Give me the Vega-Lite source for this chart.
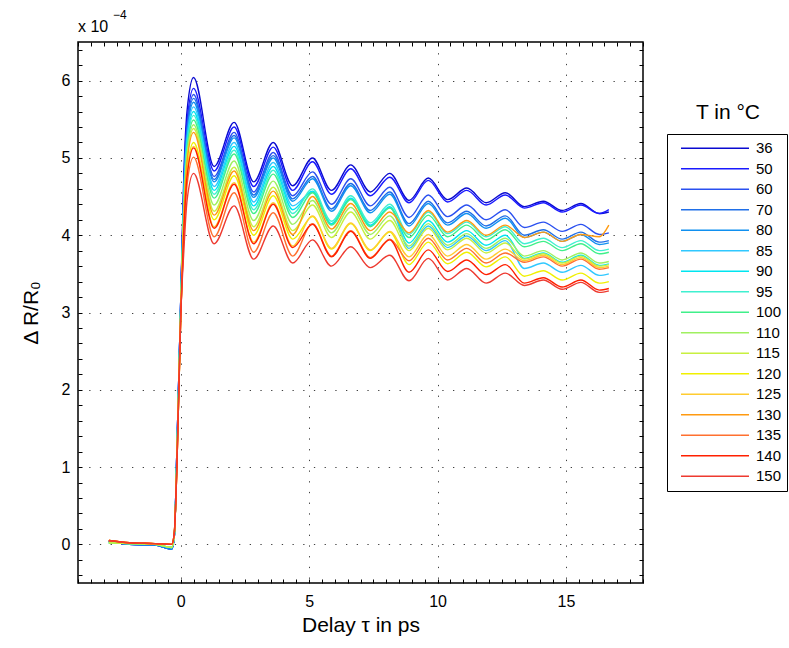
{
"$schema": "https://vega.github.io/schema/vega-lite/v6.json",
"width": 565, "height": 541,
"autosize": {"type": "none"},
"padding": {"left": 78, "top": 42, "right": 146, "bottom": 65},
"background": "white",
"config": {"view": {"stroke": "#000", "strokeWidth": 1.5}, "font": "Liberation Sans"},
"data": {"values": [
{"T":36,"x":-2.8,"y":0.04},{"T":36,"x":-2,"y":0},{"T":36,"x":-1,"y":-0.01},{"T":36,"x":-0.35,"y":-0.06},{"T":36,"x":-0.25,"y":0.1},{"T":36,"x":-0.15,"y":1.2},{"T":36,"x":0,"y":3.15},{"T":36,"x":0.12,"y":4.77},{"T":36,"x":0.25,"y":5.62},{"T":36,"x":0.5,"y":6.04},{"T":36,"x":1.3,"y":4.89},{"T":36,"x":2.08,"y":5.46},{"T":36,"x":2.84,"y":4.69},{"T":36,"x":3.6,"y":5.2},{"T":36,"x":4.36,"y":4.64},{"T":36,"x":5.13,"y":5.0},{"T":36,"x":5.87,"y":4.58},{"T":36,"x":6.62,"y":4.91},{"T":36,"x":7.38,"y":4.56},{"T":36,"x":8.14,"y":4.8},{"T":36,"x":8.89,"y":4.45},{"T":36,"x":9.64,"y":4.74},{"T":36,"x":10.39,"y":4.46},{"T":36,"x":11.14,"y":4.61},{"T":36,"x":11.89,"y":4.42},{"T":36,"x":12.64,"y":4.55},{"T":36,"x":13.38,"y":4.37},{"T":36,"x":14.12,"y":4.44},{"T":36,"x":14.85,"y":4.32},{"T":36,"x":15.58,"y":4.41},{"T":36,"x":16.3,"y":4.28},{"T":36,"x":16.67,"y":4.3},
{"T":50,"x":-2.8,"y":0.04},{"T":50,"x":-2,"y":0},{"T":50,"x":-1,"y":-0.01},{"T":50,"x":-0.35,"y":-0.06},{"T":50,"x":-0.25,"y":0.1},{"T":50,"x":-0.15,"y":1.2},{"T":50,"x":0,"y":3.15},{"T":50,"x":0.12,"y":4.66},{"T":50,"x":0.25,"y":5.49},{"T":50,"x":0.5,"y":5.9},{"T":50,"x":1.3,"y":4.83},{"T":50,"x":2.08,"y":5.4},{"T":50,"x":2.84,"y":4.63},{"T":50,"x":3.6,"y":5.14},{"T":50,"x":4.36,"y":4.58},{"T":50,"x":5.13,"y":4.95},{"T":50,"x":5.87,"y":4.53},{"T":50,"x":6.62,"y":4.86},{"T":50,"x":7.38,"y":4.51},{"T":50,"x":8.14,"y":4.75},{"T":50,"x":8.89,"y":4.42},{"T":50,"x":9.64,"y":4.71},{"T":50,"x":10.39,"y":4.43},{"T":50,"x":11.14,"y":4.58},{"T":50,"x":11.89,"y":4.39},{"T":50,"x":12.64,"y":4.52},{"T":50,"x":13.38,"y":4.35},{"T":50,"x":14.12,"y":4.42},{"T":50,"x":14.85,"y":4.3},{"T":50,"x":15.58,"y":4.39},{"T":50,"x":16.3,"y":4.28},{"T":50,"x":16.67,"y":4.33},
{"T":60,"x":-2.8,"y":0.04},{"T":60,"x":-2,"y":0},{"T":60,"x":-1,"y":-0.01},{"T":60,"x":-0.35,"y":-0.06},{"T":60,"x":-0.25,"y":0.1},{"T":60,"x":-0.15,"y":1.2},{"T":60,"x":0,"y":3.15},{"T":60,"x":0.12,"y":4.6},{"T":60,"x":0.25,"y":5.41},{"T":60,"x":0.5,"y":5.82},{"T":60,"x":1.3,"y":4.76},{"T":60,"x":2.08,"y":5.33},{"T":60,"x":2.84,"y":4.56},{"T":60,"x":3.6,"y":5.07},{"T":60,"x":4.36,"y":4.51},{"T":60,"x":5.13,"y":4.82},{"T":60,"x":5.87,"y":4.4},{"T":60,"x":6.62,"y":4.73},{"T":60,"x":7.38,"y":4.38},{"T":60,"x":8.14,"y":4.62},{"T":60,"x":8.89,"y":4.23},{"T":60,"x":9.64,"y":4.52},{"T":60,"x":10.39,"y":4.24},{"T":60,"x":11.14,"y":4.39},{"T":60,"x":11.89,"y":4.2},{"T":60,"x":12.64,"y":4.33},{"T":60,"x":13.38,"y":4.1},{"T":60,"x":14.12,"y":4.17},{"T":60,"x":14.85,"y":4.05},{"T":60,"x":15.58,"y":4.14},{"T":60,"x":16.3,"y":4.01},{"T":60,"x":16.67,"y":4.03},
{"T":70,"x":-2.8,"y":0.04},{"T":70,"x":-2,"y":0},{"T":70,"x":-1,"y":-0.01},{"T":70,"x":-0.35,"y":-0.06},{"T":70,"x":-0.25,"y":0.1},{"T":70,"x":-0.15,"y":1.2},{"T":70,"x":0,"y":3.15},{"T":70,"x":0.12,"y":4.56},{"T":70,"x":0.25,"y":5.37},{"T":70,"x":0.5,"y":5.77},{"T":70,"x":1.3,"y":4.72},{"T":70,"x":2.08,"y":5.29},{"T":70,"x":2.84,"y":4.52},{"T":70,"x":3.6,"y":5.03},{"T":70,"x":4.36,"y":4.47},{"T":70,"x":5.13,"y":4.76},{"T":70,"x":5.87,"y":4.34},{"T":70,"x":6.62,"y":4.67},{"T":70,"x":7.38,"y":4.32},{"T":70,"x":8.14,"y":4.56},{"T":70,"x":8.89,"y":4.15},{"T":70,"x":9.64,"y":4.44},{"T":70,"x":10.39,"y":4.16},{"T":70,"x":11.14,"y":4.31},{"T":70,"x":11.89,"y":4.12},{"T":70,"x":12.64,"y":4.25},{"T":70,"x":13.38,"y":4.0},{"T":70,"x":14.12,"y":4.07},{"T":70,"x":14.85,"y":3.95},{"T":70,"x":15.58,"y":4.04},{"T":70,"x":16.3,"y":3.91},{"T":70,"x":16.67,"y":3.93},
{"T":80,"x":-2.8,"y":0.04},{"T":80,"x":-2,"y":0},{"T":80,"x":-1,"y":-0.01},{"T":80,"x":-0.35,"y":-0.06},{"T":80,"x":-0.25,"y":0.1},{"T":80,"x":-0.15,"y":1.2},{"T":80,"x":0,"y":3.15},{"T":80,"x":0.12,"y":4.52},{"T":80,"x":0.25,"y":5.32},{"T":80,"x":0.5,"y":5.72},{"T":80,"x":1.3,"y":4.69},{"T":80,"x":2.08,"y":5.26},{"T":80,"x":2.84,"y":4.49},{"T":80,"x":3.6,"y":5.0},{"T":80,"x":4.36,"y":4.44},{"T":80,"x":5.13,"y":4.73},{"T":80,"x":5.87,"y":4.31},{"T":80,"x":6.62,"y":4.64},{"T":80,"x":7.38,"y":4.29},{"T":80,"x":8.14,"y":4.53},{"T":80,"x":8.89,"y":4.12},{"T":80,"x":9.64,"y":4.41},{"T":80,"x":10.39,"y":4.13},{"T":80,"x":11.14,"y":4.28},{"T":80,"x":11.89,"y":4.09},{"T":80,"x":12.64,"y":4.22},{"T":80,"x":13.38,"y":3.97},{"T":80,"x":14.12,"y":4.04},{"T":80,"x":14.85,"y":3.92},{"T":80,"x":15.58,"y":4.01},{"T":80,"x":16.3,"y":3.88},{"T":80,"x":16.67,"y":3.9},
{"T":85,"x":-2.8,"y":0.02},{"T":85,"x":-2,"y":0.01},{"T":85,"x":-1,"y":0},{"T":85,"x":-0.35,"y":-0.04},{"T":85,"x":-0.25,"y":0.12},{"T":85,"x":-0.15,"y":1.1},{"T":85,"x":0,"y":3.05},{"T":85,"x":0.12,"y":4.47},{"T":85,"x":0.25,"y":5.26},{"T":85,"x":0.5,"y":5.66},{"T":85,"x":1.3,"y":4.63},{"T":85,"x":2.08,"y":5.2},{"T":85,"x":2.84,"y":4.43},{"T":85,"x":3.6,"y":4.94},{"T":85,"x":4.36,"y":4.38},{"T":85,"x":5.13,"y":4.56},{"T":85,"x":5.87,"y":4.14},{"T":85,"x":6.62,"y":4.47},{"T":85,"x":7.38,"y":4.12},{"T":85,"x":8.14,"y":4.36},{"T":85,"x":8.89,"y":3.83},{"T":85,"x":9.64,"y":4.12},{"T":85,"x":10.39,"y":3.84},{"T":85,"x":11.14,"y":3.99},{"T":85,"x":11.89,"y":3.8},{"T":85,"x":12.64,"y":3.93},{"T":85,"x":13.38,"y":3.57},{"T":85,"x":14.12,"y":3.64},{"T":85,"x":14.85,"y":3.52},{"T":85,"x":15.58,"y":3.61},{"T":85,"x":16.3,"y":3.48},{"T":85,"x":16.67,"y":3.5},
{"T":90,"x":-2.8,"y":0.02},{"T":90,"x":-2,"y":0.01},{"T":90,"x":-1,"y":0},{"T":90,"x":-0.35,"y":-0.04},{"T":90,"x":-0.25,"y":0.12},{"T":90,"x":-0.15,"y":1.1},{"T":90,"x":0,"y":3.05},{"T":90,"x":0.12,"y":4.42},{"T":90,"x":0.25,"y":5.21},{"T":90,"x":0.5,"y":5.6},{"T":90,"x":1.3,"y":4.58},{"T":90,"x":2.08,"y":5.15},{"T":90,"x":2.84,"y":4.38},{"T":90,"x":3.6,"y":4.89},{"T":90,"x":4.36,"y":4.33},{"T":90,"x":5.13,"y":4.57},{"T":90,"x":5.87,"y":4.15},{"T":90,"x":6.62,"y":4.48},{"T":90,"x":7.38,"y":4.13},{"T":90,"x":8.14,"y":4.37},{"T":90,"x":8.89,"y":3.9},{"T":90,"x":9.64,"y":4.19},{"T":90,"x":10.39,"y":3.91},{"T":90,"x":11.14,"y":4.06},{"T":90,"x":11.89,"y":3.87},{"T":90,"x":12.64,"y":4.0},{"T":90,"x":13.38,"y":3.7},{"T":90,"x":14.12,"y":3.77},{"T":90,"x":14.85,"y":3.65},{"T":90,"x":15.58,"y":3.74},{"T":90,"x":16.3,"y":3.61},{"T":90,"x":16.67,"y":3.63},
{"T":95,"x":-2.8,"y":0.02},{"T":95,"x":-2,"y":0.01},{"T":95,"x":-1,"y":0},{"T":95,"x":-0.35,"y":-0.04},{"T":95,"x":-0.25,"y":0.12},{"T":95,"x":-0.15,"y":1.1},{"T":95,"x":0,"y":3.05},{"T":95,"x":0.12,"y":4.38},{"T":95,"x":0.25,"y":5.16},{"T":95,"x":0.5,"y":5.55},{"T":95,"x":1.3,"y":4.53},{"T":95,"x":2.08,"y":5.1},{"T":95,"x":2.84,"y":4.33},{"T":95,"x":3.6,"y":4.84},{"T":95,"x":4.36,"y":4.28},{"T":95,"x":5.13,"y":4.6},{"T":95,"x":5.87,"y":4.18},{"T":95,"x":6.62,"y":4.51},{"T":95,"x":7.38,"y":4.16},{"T":95,"x":8.14,"y":4.4},{"T":95,"x":8.89,"y":4.01},{"T":95,"x":9.64,"y":4.3},{"T":95,"x":10.39,"y":4.02},{"T":95,"x":11.14,"y":4.17},{"T":95,"x":11.89,"y":3.98},{"T":95,"x":12.64,"y":4.11},{"T":95,"x":13.38,"y":3.89},{"T":95,"x":14.12,"y":3.96},{"T":95,"x":14.85,"y":3.84},{"T":95,"x":15.58,"y":3.93},{"T":95,"x":16.3,"y":3.8},{"T":95,"x":16.67,"y":3.82},
{"T":100,"x":-2.8,"y":0.02},{"T":100,"x":-2,"y":0.01},{"T":100,"x":-1,"y":0},{"T":100,"x":-0.35,"y":-0.04},{"T":100,"x":-0.25,"y":0.12},{"T":100,"x":-0.15,"y":1.1},{"T":100,"x":0,"y":3.05},{"T":100,"x":0.12,"y":4.34},{"T":100,"x":0.25,"y":5.11},{"T":100,"x":0.5,"y":5.49},{"T":100,"x":1.3,"y":4.48},{"T":100,"x":2.08,"y":5.05},{"T":100,"x":2.84,"y":4.28},{"T":100,"x":3.6,"y":4.79},{"T":100,"x":4.36,"y":4.23},{"T":100,"x":5.13,"y":4.55},{"T":100,"x":5.87,"y":4.13},{"T":100,"x":6.62,"y":4.46},{"T":100,"x":7.38,"y":4.11},{"T":100,"x":8.14,"y":4.35},{"T":100,"x":8.89,"y":3.97},{"T":100,"x":9.64,"y":4.26},{"T":100,"x":10.39,"y":3.98},{"T":100,"x":11.14,"y":4.13},{"T":100,"x":11.89,"y":3.94},{"T":100,"x":12.64,"y":4.07},{"T":100,"x":13.38,"y":3.85},{"T":100,"x":14.12,"y":3.92},{"T":100,"x":14.85,"y":3.8},{"T":100,"x":15.58,"y":3.89},{"T":100,"x":16.3,"y":3.76},{"T":100,"x":16.67,"y":3.78},
{"T":110,"x":-2.8,"y":0.02},{"T":110,"x":-2,"y":0.01},{"T":110,"x":-1,"y":0},{"T":110,"x":-0.35,"y":-0.04},{"T":110,"x":-0.25,"y":0.12},{"T":110,"x":-0.15,"y":1.1},{"T":110,"x":0,"y":3.05},{"T":110,"x":0.12,"y":4.29},{"T":110,"x":0.25,"y":5.05},{"T":110,"x":0.5,"y":5.43},{"T":110,"x":1.3,"y":4.39},{"T":110,"x":2.08,"y":4.96},{"T":110,"x":2.84,"y":4.19},{"T":110,"x":3.6,"y":4.7},{"T":110,"x":4.36,"y":4.14},{"T":110,"x":5.13,"y":4.45},{"T":110,"x":5.87,"y":4.03},{"T":110,"x":6.62,"y":4.36},{"T":110,"x":7.38,"y":4.01},{"T":110,"x":8.14,"y":4.25},{"T":110,"x":8.89,"y":3.86},{"T":110,"x":9.64,"y":4.15},{"T":110,"x":10.39,"y":3.87},{"T":110,"x":11.14,"y":4.02},{"T":110,"x":11.89,"y":3.83},{"T":110,"x":12.64,"y":3.96},{"T":110,"x":13.38,"y":3.73},{"T":110,"x":14.12,"y":3.8},{"T":110,"x":14.85,"y":3.68},{"T":110,"x":15.58,"y":3.77},{"T":110,"x":16.3,"y":3.64},{"T":110,"x":16.67,"y":3.66},
{"T":115,"x":-2.8,"y":0.02},{"T":115,"x":-2,"y":0.01},{"T":115,"x":-1,"y":0},{"T":115,"x":-0.35,"y":-0.04},{"T":115,"x":-0.25,"y":0.12},{"T":115,"x":-0.15,"y":1.1},{"T":115,"x":0,"y":3.05},{"T":115,"x":0.12,"y":4.25},{"T":115,"x":0.25,"y":5.0},{"T":115,"x":0.5,"y":5.38},{"T":115,"x":1.3,"y":4.31},{"T":115,"x":2.08,"y":4.88},{"T":115,"x":2.84,"y":4.11},{"T":115,"x":3.6,"y":4.62},{"T":115,"x":4.36,"y":4.06},{"T":115,"x":5.13,"y":4.39},{"T":115,"x":5.87,"y":3.97},{"T":115,"x":6.62,"y":4.3},{"T":115,"x":7.38,"y":3.95},{"T":115,"x":8.14,"y":4.19},{"T":115,"x":8.89,"y":3.8},{"T":115,"x":9.64,"y":4.09},{"T":115,"x":10.39,"y":3.81},{"T":115,"x":11.14,"y":3.96},{"T":115,"x":11.89,"y":3.77},{"T":115,"x":12.64,"y":3.9},{"T":115,"x":13.38,"y":3.69},{"T":115,"x":14.12,"y":3.76},{"T":115,"x":14.85,"y":3.64},{"T":115,"x":15.58,"y":3.73},{"T":115,"x":16.3,"y":3.6},{"T":115,"x":16.67,"y":3.62},
{"T":120,"x":-2.8,"y":0.05},{"T":120,"x":-2,"y":0.02},{"T":120,"x":-1,"y":0.01},{"T":120,"x":-0.35,"y":0},{"T":120,"x":-0.25,"y":0.15},{"T":120,"x":-0.15,"y":1.0},{"T":120,"x":0,"y":2.95},{"T":120,"x":0.12,"y":4.11},{"T":120,"x":0.25,"y":4.84},{"T":120,"x":0.5,"y":5.2},{"T":120,"x":1.3,"y":4.2},{"T":120,"x":2.08,"y":4.77},{"T":120,"x":2.84,"y":4.0},{"T":120,"x":3.6,"y":4.51},{"T":120,"x":4.36,"y":3.95},{"T":120,"x":5.13,"y":4.24},{"T":120,"x":5.87,"y":3.82},{"T":120,"x":6.62,"y":4.15},{"T":120,"x":7.38,"y":3.8},{"T":120,"x":8.14,"y":4.04},{"T":120,"x":8.89,"y":3.62},{"T":120,"x":9.64,"y":3.91},{"T":120,"x":10.39,"y":3.63},{"T":120,"x":11.14,"y":3.78},{"T":120,"x":11.89,"y":3.59},{"T":120,"x":12.64,"y":3.72},{"T":120,"x":13.38,"y":3.47},{"T":120,"x":14.12,"y":3.54},{"T":120,"x":14.85,"y":3.42},{"T":120,"x":15.58,"y":3.51},{"T":120,"x":16.3,"y":3.38},{"T":120,"x":16.67,"y":3.4},
{"T":125,"x":-2.8,"y":0.05},{"T":125,"x":-2,"y":0.02},{"T":125,"x":-1,"y":0.01},{"T":125,"x":-0.35,"y":0},{"T":125,"x":-0.25,"y":0.15},{"T":125,"x":-0.15,"y":1.0},{"T":125,"x":0,"y":2.95},{"T":125,"x":0.12,"y":4.07},{"T":125,"x":0.25,"y":4.79},{"T":125,"x":0.5,"y":5.15},{"T":125,"x":1.3,"y":4.11},{"T":125,"x":2.08,"y":4.68},{"T":125,"x":2.84,"y":3.91},{"T":125,"x":3.6,"y":4.42},{"T":125,"x":4.36,"y":3.86},{"T":125,"x":5.13,"y":4.25},{"T":125,"x":5.87,"y":3.83},{"T":125,"x":6.62,"y":4.16},{"T":125,"x":7.38,"y":3.81},{"T":125,"x":8.14,"y":4.05},{"T":125,"x":8.89,"y":3.72},{"T":125,"x":9.64,"y":4.01},{"T":125,"x":10.39,"y":3.73},{"T":125,"x":11.14,"y":3.88},{"T":125,"x":11.89,"y":3.69},{"T":125,"x":12.64,"y":3.82},{"T":125,"x":13.38,"y":3.67},{"T":125,"x":14.12,"y":3.74},{"T":125,"x":14.85,"y":3.62},{"T":125,"x":15.58,"y":3.71},{"T":125,"x":16.3,"y":3.58},{"T":125,"x":16.67,"y":3.6},
{"T":130,"x":-2.8,"y":0.05},{"T":130,"x":-2,"y":0.02},{"T":130,"x":-1,"y":0.01},{"T":130,"x":-0.35,"y":0},{"T":130,"x":-0.25,"y":0.15},{"T":130,"x":-0.15,"y":1.0},{"T":130,"x":0,"y":2.95},{"T":130,"x":0.12,"y":4.21},{"T":130,"x":0.25,"y":4.96},{"T":130,"x":0.5,"y":5.33},{"T":130,"x":1.3,"y":4.26},{"T":130,"x":2.08,"y":4.83},{"T":130,"x":2.84,"y":4.06},{"T":130,"x":3.6,"y":4.57},{"T":130,"x":4.36,"y":4.01},{"T":130,"x":5.13,"y":4.5},{"T":130,"x":5.87,"y":4.08},{"T":130,"x":6.62,"y":4.41},{"T":130,"x":7.38,"y":4.06},{"T":130,"x":8.14,"y":4.3},{"T":130,"x":8.89,"y":4.03},{"T":130,"x":9.64,"y":4.32},{"T":130,"x":10.39,"y":4.04},{"T":130,"x":11.14,"y":4.19},{"T":130,"x":11.89,"y":4.0},{"T":130,"x":12.64,"y":4.13},{"T":130,"x":13.38,"y":3.97},{"T":130,"x":14.12,"y":4.04},{"T":130,"x":14.85,"y":3.92},{"T":130,"x":15.58,"y":4.01},{"T":130,"x":16.3,"y":3.98},{"T":130,"x":16.67,"y":4.13},
{"T":135,"x":-2.8,"y":0.05},{"T":135,"x":-2,"y":0.02},{"T":135,"x":-1,"y":0.01},{"T":135,"x":-0.35,"y":0},{"T":135,"x":-0.25,"y":0.15},{"T":135,"x":-0.15,"y":1.0},{"T":135,"x":0,"y":2.95},{"T":135,"x":0.12,"y":3.96},{"T":135,"x":0.25,"y":4.66},{"T":135,"x":0.5,"y":5.01},{"T":135,"x":1.3,"y":3.98},{"T":135,"x":2.08,"y":4.55},{"T":135,"x":2.84,"y":3.78},{"T":135,"x":3.6,"y":4.29},{"T":135,"x":4.36,"y":3.73},{"T":135,"x":5.13,"y":4.15},{"T":135,"x":5.87,"y":3.73},{"T":135,"x":6.62,"y":4.06},{"T":135,"x":7.38,"y":3.71},{"T":135,"x":8.14,"y":3.95},{"T":135,"x":8.89,"y":3.67},{"T":135,"x":9.64,"y":3.96},{"T":135,"x":10.39,"y":3.68},{"T":135,"x":11.14,"y":3.83},{"T":135,"x":11.89,"y":3.64},{"T":135,"x":12.64,"y":3.77},{"T":135,"x":13.38,"y":3.65},{"T":135,"x":14.12,"y":3.72},{"T":135,"x":14.85,"y":3.6},{"T":135,"x":15.58,"y":3.69},{"T":135,"x":16.3,"y":3.56},{"T":135,"x":16.67,"y":3.58},
{"T":140,"x":-2.8,"y":0.05},{"T":140,"x":-2,"y":0.02},{"T":140,"x":-1,"y":0.01},{"T":140,"x":-0.35,"y":0},{"T":140,"x":-0.25,"y":0.15},{"T":140,"x":-0.15,"y":1.0},{"T":140,"x":0,"y":2.95},{"T":140,"x":0.12,"y":4.05},{"T":140,"x":0.25,"y":4.77},{"T":140,"x":0.5,"y":5.13},{"T":140,"x":1.3,"y":4.09},{"T":140,"x":2.08,"y":4.66},{"T":140,"x":2.84,"y":3.89},{"T":140,"x":3.6,"y":4.4},{"T":140,"x":4.36,"y":3.84},{"T":140,"x":5.13,"y":4.14},{"T":140,"x":5.87,"y":3.72},{"T":140,"x":6.62,"y":4.05},{"T":140,"x":7.38,"y":3.7},{"T":140,"x":8.14,"y":3.94},{"T":140,"x":8.89,"y":3.52},{"T":140,"x":9.64,"y":3.81},{"T":140,"x":10.39,"y":3.53},{"T":140,"x":11.14,"y":3.68},{"T":140,"x":11.89,"y":3.49},{"T":140,"x":12.64,"y":3.62},{"T":140,"x":13.38,"y":3.38},{"T":140,"x":14.12,"y":3.45},{"T":140,"x":14.85,"y":3.33},{"T":140,"x":15.58,"y":3.42},{"T":140,"x":16.3,"y":3.29},{"T":140,"x":16.67,"y":3.31},
{"T":150,"x":-2.8,"y":0.05},{"T":150,"x":-2,"y":0.02},{"T":150,"x":-1,"y":0.01},{"T":150,"x":-0.35,"y":0},{"T":150,"x":-0.25,"y":0.15},{"T":150,"x":-0.15,"y":1.0},{"T":150,"x":0,"y":2.95},{"T":150,"x":0.12,"y":3.79},{"T":150,"x":0.25,"y":4.46},{"T":150,"x":0.5,"y":4.8},{"T":150,"x":1.3,"y":3.89},{"T":150,"x":2.08,"y":4.38},{"T":150,"x":2.84,"y":3.69},{"T":150,"x":3.6,"y":4.12},{"T":150,"x":4.36,"y":3.64},{"T":150,"x":5.13,"y":3.94},{"T":150,"x":5.87,"y":3.6},{"T":150,"x":6.62,"y":3.85},{"T":150,"x":7.38,"y":3.58},{"T":150,"x":8.14,"y":3.74},{"T":150,"x":8.89,"y":3.41},{"T":150,"x":9.64,"y":3.7},{"T":150,"x":10.39,"y":3.42},{"T":150,"x":11.14,"y":3.57},{"T":150,"x":11.89,"y":3.38},{"T":150,"x":12.64,"y":3.51},{"T":150,"x":13.38,"y":3.35},{"T":150,"x":14.12,"y":3.42},{"T":150,"x":14.85,"y":3.3},{"T":150,"x":15.58,"y":3.39},{"T":150,"x":16.3,"y":3.26},{"T":150,"x":16.67,"y":3.28}
]},
"resolve": {"axis": {"x": "independent", "y": "independent"}},
"layer": [
{"mark": {"type": "line", "interpolate": "monotone", "strokeWidth": 1.4},
 "encoding": {
  "x": {"field": "x", "type": "quantitative", "scale": {"domain": [-4, 18], "nice": false, "zero": false},
        "axis": {"orient": "bottom", "values": [0, 5, 10, 15], "ticks": false, "domain": false, "grid": true, "gridDash": [1.3, 9.4], "gridColor": "#000", "gridOpacity": 0.75, "gridWidth": 1, "labelFontSize": 16, "labelPadding": 10, "labelColor": "#000", "labelFont": "Liberation Sans", "title": "Delay τ in ps", "titleFontSize": 21, "titleFontWeight": "normal", "titleFont": "Liberation Sans", "titleColor": "#000", "titlePadding": 5}},
  "y": {"field": "y", "type": "quantitative", "scale": {"domain": [-0.5, 6.5], "nice": false, "zero": false},
        "axis": {"orient": "left", "values": [0, 1, 2, 3, 4, 5, 6], "ticks": false, "domain": false, "grid": true, "gridDash": [1.3, 9.4], "gridColor": "#000", "gridOpacity": 0.75, "gridWidth": 1, "labelFontSize": 16, "labelPadding": 8, "labelColor": "#000", "labelFont": "Liberation Sans", "title": "Δ R/R₀", "titleFontSize": 21, "titleFontWeight": "normal", "titleFont": "Liberation Sans", "titleColor": "#000", "titlePadding": 20}},
  "color": {"field": "T", "type": "ordinal",
        "scale": {"domain": [36, 50, 60, 70, 80, 85, 90, 95, 100, 110, 115, 120, 125, 130, 135, 140, 150],
                  "range": ["#0a0ad0", "#1a1aff", "#2a50f0", "#1f6fe8", "#1090f0", "#30c8ff", "#00e5f0", "#40f0d0", "#40f08a", "#a0f060", "#c8f040", "#f0f000", "#ffcc30", "#ff9a10", "#ff7030", "#ff2000", "#ee3a30"]},
        "legend": {"orient": "none", "legendX": 589, "legendY": 92, "title": null, "symbolType": "stroke", "symbolSize": 4624, "symbolStrokeWidth": 1.5, "clipHeight": 18.5, "rowPadding": 1.5, "padding": 5, "strokeColor": "#000", "fillColor": "#fff", "labelFontSize": 15, "labelFont": "Liberation Sans", "labelColor": "#000", "labelOffset": 6, "symbolOffset": 8}}
 }},
{"data": {"values": [{}]}, "mark": {"type": "point", "opacity": 0},
 "encoding": {
  "x": {"datum": -4, "type": "quantitative", "axis": {"orient": "bottom", "values": [-4,-3.5,-3,-2.5,-2,-1.5,-1,-0.5,0,0.5,1,1.5,2,2.5,3,3.5,4,4.5,5,5.5,6,6.5,7,7.5,8,8.5,9,9.5,10,10.5,11,11.5,12,12.5,13,13.5,14,14.5,15,15.5,16,16.5,17,17.5,18], "labels": false, "domain": false, "grid": false, "ticks": true, "tickSize": 4, "offset": -4, "tickColor": "#000", "tickWidth": 1, "title": null}},
  "y": {"datum": -0.5, "type": "quantitative", "axis": {"orient": "left", "values": [-0.4,-0.2,0,0.2,0.4,0.6,0.8,1,1.2,1.4,1.6,1.8,2,2.2,2.4,2.6,2.8,3,3.2,3.4,3.6,3.8,4,4.2,4.4,4.6,4.8,5,5.2,5.4,5.6,5.8,6,6.2,6.4], "labels": false, "domain": false, "grid": false, "ticks": true, "tickSize": 4, "offset": -4, "tickColor": "#000", "tickWidth": 1, "title": null}}
 }},
{"data": {"values": [{}]}, "mark": {"type": "point", "opacity": 0},
 "encoding": {
  "x": {"datum": -4, "type": "quantitative", "axis": {"orient": "top", "values": [-4,-3.5,-3,-2.5,-2,-1.5,-1,-0.5,0,0.5,1,1.5,2,2.5,3,3.5,4,4.5,5,5.5,6,6.5,7,7.5,8,8.5,9,9.5,10,10.5,11,11.5,12,12.5,13,13.5,14,14.5,15,15.5,16,16.5,17,17.5,18], "labels": false, "domain": false, "grid": false, "ticks": true, "tickSize": 4, "offset": -4, "tickColor": "#000", "tickWidth": 1, "title": null}},
  "y": {"datum": -0.5, "type": "quantitative", "axis": {"orient": "right", "values": [-0.4,-0.2,0,0.2,0.4,0.6,0.8,1,1.2,1.4,1.6,1.8,2,2.2,2.4,2.6,2.8,3,3.2,3.4,3.6,3.8,4,4.2,4.4,4.6,4.8,5,5.2,5.4,5.6,5.8,6,6.2,6.4], "labels": false, "domain": false, "grid": false, "ticks": true, "tickSize": 4, "offset": -4, "tickColor": "#000", "tickWidth": 1, "title": null}}
 }},
{"data": {"values": [{}]}, "mark": {"type": "text", "text": "x 10", "align": "left", "baseline": "alphabetic", "dy": -10, "fontSize": 16, "font": "Liberation Sans", "color": "#000"},
 "encoding": {"x": {"datum": -4, "type": "quantitative", "axis": null}, "y": {"datum": 6.5, "type": "quantitative", "axis": null}}},
{"data": {"values": [{}]}, "mark": {"type": "text", "text": "−4", "align": "left", "baseline": "alphabetic", "dx": 35, "dy": -23, "fontSize": 12, "font": "Liberation Sans", "color": "#000"},
 "encoding": {"x": {"datum": -4, "type": "quantitative", "axis": null}, "y": {"datum": 6.5, "type": "quantitative", "axis": null}}},
{"data": {"values": [{}]}, "mark": {"type": "text", "text": "T in °C", "align": "center", "baseline": "middle", "fontSize": 21, "font": "Liberation Sans", "color": "#000"},
 "encoding": {"x": {"datum": 21.31, "type": "quantitative", "axis": null}, "y": {"datum": 5.58, "type": "quantitative", "axis": null}}}
]
}
